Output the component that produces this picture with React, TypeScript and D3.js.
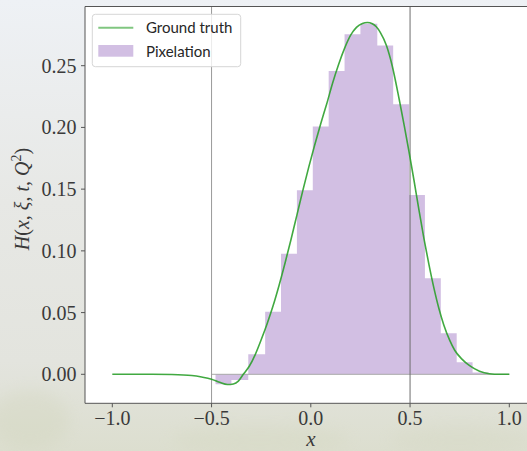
import React from "react";
import * as d3 from "d3";

// ---- data ----
const binEdges = [-0.48, -0.4, -0.315, -0.23, -0.15, -0.07, 0.01, 0.09, 0.17, 0.25, 0.335, 0.415, 0.495, 0.575, 0.655, 0.735, 0.815, 0.895];
const binValues = [-0.0081, -0.0046, 0.0162, 0.0507, 0.0977, 0.149, 0.2007, 0.2458, 0.2755, 0.2839, 0.2663, 0.2188, 0.1453, 0.0778, 0.0332, 0.0097, 0.0015];

const truthX = [
  -1.0, -0.9, -0.8, -0.7, -0.6, -0.55, -0.5, -0.46, -0.42, -0.39, -0.365, -0.34, -0.31, -0.28, -0.25, -0.22, -0.19,
  -0.16, -0.13, -0.1, -0.07, -0.04, -0.01, 0.02, 0.05, 0.08, 0.11, 0.14, 0.17, 0.2, 0.23, 0.26, 0.285, 0.31, 0.33,
  0.35, 0.381, 0.41, 0.445, 0.47, 0.494, 0.52, 0.545, 0.57, 0.595, 0.62, 0.645, 0.67, 0.7, 0.725, 0.76, 0.8, 0.85,
  0.9, 0.95, 1.0,
];
const truthY = [
  0, 0, 0, -0.0002, -0.001, -0.0022, -0.004, -0.0065, -0.0083, -0.0078, -0.0055, 0.0, 0.0065, 0.016, 0.028, 0.041,
  0.0555, 0.072, 0.09, 0.109, 0.129, 0.149, 0.168, 0.186, 0.203, 0.219, 0.236, 0.251, 0.264, 0.2745, 0.281, 0.2842,
  0.285, 0.284, 0.2815, 0.277, 0.2663, 0.25, 0.223, 0.202, 0.181, 0.157, 0.133, 0.11, 0.089, 0.07, 0.0535, 0.04,
  0.0275, 0.0195, 0.0125, 0.007, 0.0025, 0.0005, 0, 0,
];

const xTicks = [-1.0, -0.5, 0.0, 0.5, 1.0];
const yTicks = [0.0, 0.05, 0.1, 0.15, 0.2, 0.25];
const vLines = [-0.5, 0.5];
const legendLabels = ["Ground truth", "Pixelation"];

const W = 527, H = 451;
const plot = { left: 85, top: 6.5, right: 540, bottom: 403.3 };

export default function App() {
  const x = d3.scaleLinear().domain([-1, 1]).range([112.3, 509.3]);
  const y = d3.scaleLinear().domain([0, 0.25]).range([374.3, 65.7]);

  const line = d3
    .line<number>()
    .x((_, i) => x(truthX[i]))
    .y((d) => y(d))
    .curve(d3.curveMonotoneX);

  // single step-shaped path for the pixelation bars (avoids seams between bars)
  const bp = d3.path();
  bp.moveTo(x(binEdges[0]), y(0));
  binValues.forEach((v, i) => {
    bp.lineTo(x(binEdges[i]), y(v));
    bp.lineTo(x(binEdges[i + 1]), y(v));
  });
  bp.lineTo(x(binEdges[binEdges.length - 1]), y(0));
  bp.closePath();

  const fmt = (v: number, n: number) => {
    const s = Math.abs(v).toFixed(n);
    return v < 0 ? "\u2212" + s : s;
  };

  const serif = "'Liberation Serif', 'DejaVu Serif', serif";
  const tickColor = "#3a3a3a";

  return (
    <svg width={W} height={H} style={{ position: "absolute", left: 0, top: 0 }}>
      <defs>
        <linearGradient id="bg" x1="0" y1="0" x2="0" y2="1">
          <stop offset="0" stopColor="#eef1f5" />
          <stop offset="0.45" stopColor="#e7e8e5" />
          <stop offset="0.8" stopColor="#e3e4de" />
          <stop offset="1" stopColor="#dcdecf" />
        </linearGradient>
        <filter id="blur" x="-50%" y="-50%" width="200%" height="200%">
          <feGaussianBlur stdDeviation="8" />
        </filter>
        <clipPath id="clip">
          <rect x={plot.left} y={plot.top} width={plot.right - plot.left} height={plot.bottom - plot.top} />
        </clipPath>
      </defs>
      <rect x={0} y={0} width={W} height={H} fill="url(#bg)" />
      <g filter="url(#blur)" opacity={0.3}>
        <ellipse cx={30} cy={420} rx={40} ry={30} fill="#cfd3b8" />
        <ellipse cx={260} cy={440} rx={90} ry={14} fill="#d2d6bc" />
        <ellipse cx={460} cy={440} rx={70} ry={14} fill="#d3d6bf" />
      </g>

      {/* plot background */}
      <rect x={plot.left} y={plot.top} width={plot.right - plot.left} height={plot.bottom - plot.top} fill="#ffffff" />

      <g clipPath="url(#clip)">
        {/* pixelation bars */}
        <path d={bp.toString()} fill="#9467bd" fillOpacity={0.42} fillRule="nonzero" />
        {/* zero line */}
        <line x1={x(-0.5)} x2={x(1)} y1={y(0)} y2={y(0)} stroke="#a8a8a8" strokeWidth={1} />
        {/* vertical markers */}
        {vLines.map((v, i) => (
          <line key={v} x1={x(v)} x2={x(v)} y1={plot.top} y2={plot.bottom} stroke={i === 0 ? "#9a9a9a" : "#6e6e6e"} strokeWidth={1} />
        ))}
        {/* ground truth */}
        <path d={line(truthY) || ""} fill="none" stroke="#2ca02c" strokeOpacity={0.9} strokeWidth={1.6} />
      </g>

      {/* frame */}
      <path
        d={`M${plot.right},${plot.top}H${plot.left}V${plot.bottom}H${plot.right}`}
        fill="none"
        stroke="#555"
        strokeWidth={1}
      />

      {/* y ticks */}
      {yTicks.map((t) => (
        <g key={t}>
          <line x1={plot.left - 4} x2={plot.left} y1={y(t)} y2={y(t)} stroke="#555" strokeWidth={1} />
          <text x={76.5} y={y(t)} dy="0.35em" textAnchor="end" fontFamily={serif} fontSize={20} fill={tickColor}>
            {fmt(t, 2)}
          </text>
        </g>
      ))}
      {/* x ticks */}
      {xTicks.map((t) => (
        <g key={t}>
          <line x1={x(t)} x2={x(t)} y1={plot.bottom} y2={plot.bottom + 4} stroke="#555" strokeWidth={1} />
          <text x={x(t)} y={425} textAnchor="middle" fontFamily={serif} fontSize={20} fill={tickColor}>
            {fmt(t, 1)}
          </text>
        </g>
      ))}

      {/* axis labels */}
      <text x={311} y={446} textAnchor="middle" fontFamily={serif} fontSize={21} fontStyle="italic" fill={tickColor}>
        x
      </text>
      <text
        transform="translate(29,199) rotate(-90)"
        textAnchor="middle"
        fontFamily={serif}
        fontSize={20}
        fill={tickColor}
      >
        <tspan fontStyle="italic">H</tspan>
        <tspan>(</tspan>
        <tspan fontStyle="italic">x</tspan>
        <tspan>, </tspan>
        <tspan fontStyle="italic">ξ</tspan>
        <tspan>, </tspan>
        <tspan fontStyle="italic">t</tspan>
        <tspan>, </tspan>
        <tspan fontStyle="italic">Q</tspan>
        <tspan fontSize={14} dy={-8}>2</tspan>
        <tspan dy={8}>)</tspan>
      </text>

      {/* legend */}
      <g>
        <rect x={92.3} y={14.3} width={148.4} height={52.4} rx={3} fill="#ffffff" fillOpacity={0.8} stroke="#d6d6d6" strokeWidth={1} />
        <line x1={98.3} x2={133.3} y1={27.7} y2={27.7} stroke="#2ca02c" strokeOpacity={0.6} strokeWidth={2} />
        <rect x={98.3} y={45} width={35} height={11.7} fill="#9467bd" fillOpacity={0.42} />
        <text x={146} y={33.3} fontFamily="Lato, 'DejaVu Sans', sans-serif" fontSize={15} fill="#262626">
          {legendLabels[0]}
        </text>
        <text x={146} y={56.7} fontFamily="Lato, 'DejaVu Sans', sans-serif" fontSize={15} fill="#262626">
          {legendLabels[1]}
        </text>
      </g>
    </svg>
  );
}
